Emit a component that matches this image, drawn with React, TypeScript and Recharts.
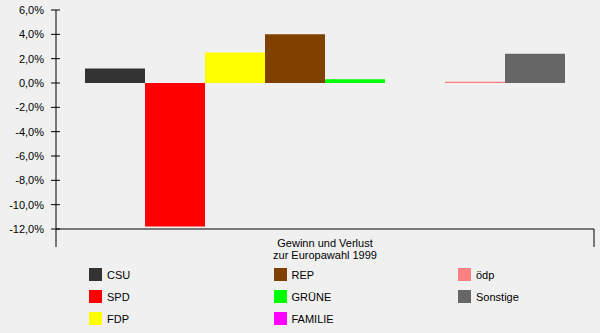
import React from "react"
import { BarChart, Bar, XAxis, YAxis } from "recharts"

const parties = ["CSU", "SPD", "FDP", "REP", "GRÜNE", "FAMILIE", "ödp", "Sonstige"]
const values = [1.2, -11.8, 2.5, 4.0, 0.3, 0.0, 0.1, 2.4]
const colors = ["#333333", "#ff0000", "#ffff00", "#804000", "#00ff00", "#ff00ff", "#ff8080", "#666666"]
const categoryLines = ["Gewinn und Verlust", "zur Europawahl 1999"]
const yTicks = [-12, -10, -8, -6, -4, -2, 0, 2, 4, 6]

const FONT = "'Liberation Sans', Arial, sans-serif"

// one category row, one key per party
const row: Record<string, string | number> = { name: categoryLines.join(" ") }
parties.forEach((p, i) => {
  row[p] = values[i]
})
const chartData = [row]

const fmt = (v: number) => v.toFixed(1).replace(".", ",") + "%"

const YTick = (props: any) => {
  const { x, y, payload } = props
  return (
    <g>
      <line x1={x - 5} x2={x + 4} y1={y} y2={y} stroke="#000" />
      <text x={x - 12} y={y + 4} textAnchor="end" fontSize={11} fontFamily={FONT} fill="#000">
        {fmt(payload.value)}
      </text>
    </g>
  )
}

const XTick = (props: any) => {
  const { x, y, width } = props
  const half = (width || 538) / chartData.length / 2
  return (
    <g>
      <line x1={x - half} x2={x - half} y1={y} y2={y + 18} stroke="#000" />
      <line x1={x + half} x2={x + half} y1={y} y2={y + 18} stroke="#000" />
      {categoryLines.map((t, i) => (
        <text key={t} x={x} y={y + 18 + i * 12} textAnchor="middle" fontSize={11} fontFamily={FONT} fill="#000">
          {t}
        </text>
      ))}
    </g>
  )
}

const legendCols = [0, 0, 0, 1, 1, 1, 2, 2]
const legendRows = [0, 1, 2, 0, 1, 2, 0, 1]

export default function App() {
  return (
    <div style={{ position: "absolute", left: 0, top: 0, width: 600, height: 333, background: "#f0f0f0", fontFamily: FONT }}>
      <BarChart
        width={600}
        height={333}
        data={chartData}
        margin={{ top: 10, right: 6, left: 0, bottom: 64 }}
        barCategoryGap={29}
        barGap={0}
      >
        <XAxis
          dataKey="name"
          height={40}
          tickLine={false}
          tickSize={0}
          tickMargin={0}
          axisLine={{ stroke: "#000" }}
          tick={<XTick />}
        />
        <YAxis
          width={56}
          domain={[-12, 6]}
          ticks={yTicks}
          interval={0}
          tickLine={false}
          tickSize={0}
          tickMargin={0}
          axisLine={{ stroke: "#000" }}
          tick={<YTick />}
        />
        {parties.map((p, i) => (
          <Bar key={p} dataKey={p} fill={colors[i]} isAnimationActive={false} />
        ))}
      </BarChart>
      {parties.map((p, i) => (
        <div
          key={p}
          style={{
            position: "absolute",
            left: 89 + legendCols[i] * 184.5,
            top: 268 + legendRows[i] * 22,
            display: "flex",
            alignItems: "center",
            fontSize: 11,
            color: "#000",
            whiteSpace: "nowrap",
          }}
        >
          <span style={{ display: "inline-block", width: 13, height: 13, background: colors[i], marginRight: 5 }} />
          <span>{p}</span>
        </div>
      ))}
    </div>
  )
}
